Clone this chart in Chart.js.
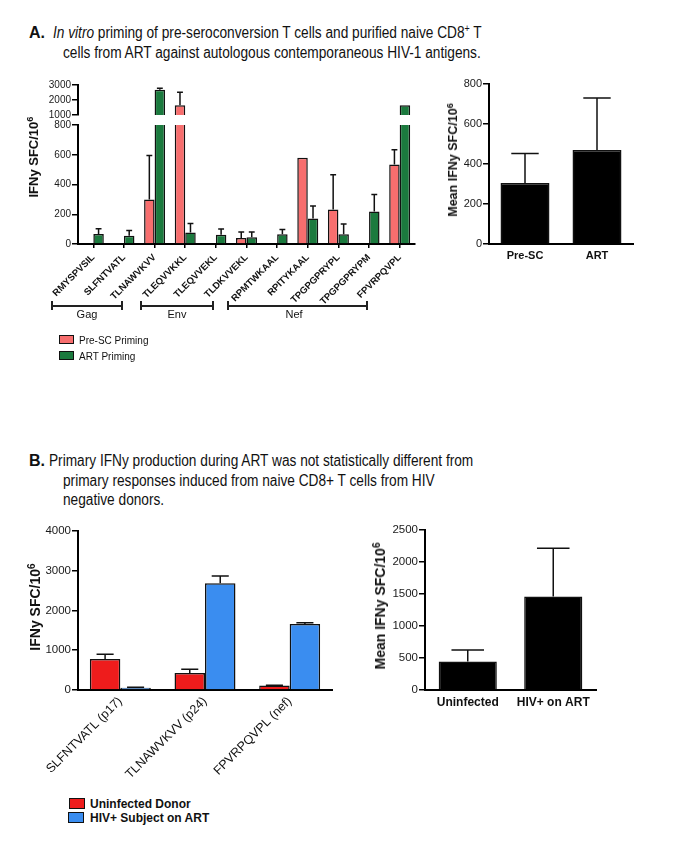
<!DOCTYPE html>
<html>
<head>
<meta charset="utf-8">
<script src="https://cdn.jsdelivr.net/npm/chart.js@4.4.1/dist/chart.umd.min.js"></script>
<style>
  html, body { margin:0; padding:0; background:#fff; }
  #page { position:relative; width:685px; height:849px; overflow:hidden; background:#fff; font-family:'Liberation Sans', Arial, sans-serif; color:#111; }
  canvas { position:absolute; }
  .t { position:absolute; white-space:nowrap; font-size:16px; line-height:20px; font-family:'Liberation Sans',Arial,sans-serif; color:#111; transform:scaleX(0.855); transform-origin:0 50%; }
  .lab { position:absolute; white-space:nowrap; font-weight:bold; font-size:16px; line-height:20px; font-family:'Liberation Sans',Arial,sans-serif; color:#111; }
  .ytitle { position:absolute; white-space:nowrap; font-weight:bold; transform:translate(-50%,-50%) rotate(-90deg); font-family:'Liberation Sans',Arial,sans-serif; color:#111; }
  .ytitle sup { font-size:0.72em; vertical-align:0.5em; line-height:0; }
  .sq { position:absolute; box-sizing:border-box; border:1.5px solid #111; }
  .leg { position:absolute; white-space:nowrap; font-family:'Liberation Sans',Arial,sans-serif; color:#111; transform:translateY(-50%); }
  .br { position:absolute; box-sizing:border-box; border-left:2px solid #222; border-right:2px solid #222; height:9px; }
  .br i { position:absolute; left:0; right:0; top:3.5px; height:2px; background:#222; }
  .brl { position:absolute; font-size:11px; font-family:'Liberation Sans',Arial,sans-serif; color:#111; transform:translate(-50%,-50%); }
</style>
</head>
<body>
<div id="page">
  <div class="lab" style="left:29px; top:23px;">A.</div>
  <div class="t" style="left:53px; top:23px;"><i>In vitro</i> priming of pre-seroconversion T cells and purified naive CD8<sup style="font-size:0.65em; vertical-align:0.55em; line-height:0;">+</sup> T</div>
  <div class="t" style="left:63px; top:43px;">cells from ART against autologous contemporaneous HIV-1 antigens.</div>

  <div class="lab" style="left:29px; top:451px;">B.</div>
  <div class="t" style="left:49px; top:451px;">Primary IFNy production during ART was not statistically different from</div>
  <div class="t" style="left:63px; top:471px;">primary responses induced from naive CD8+ T cells from HIV</div>
  <div class="t" style="left:63px; top:490px;">negative donors.</div>

  <canvas id="cATop" width="425" height="50" style="left:0px; top:75px;"></canvas>
  <canvas id="cABot" width="425" height="190" style="left:0px; top:115px;"></canvas>
  <canvas id="cAMean" width="260" height="200" style="left:425px; top:70px;"></canvas>
  <canvas id="cB" width="345" height="260" style="left:0px; top:520px;"></canvas>
  <canvas id="cBMean" width="340" height="200" style="left:345px; top:518px;"></canvas>

  <div class="ytitle" style="left:33px; top:157px; font-size:13px;">IFNy SFC/10<sup>6</sup></div>
  <div class="ytitle" style="left:453px; top:160px; font-size:12.5px;">Mean IFNy SFC/10<sup>6</sup></div>
  <div class="ytitle" style="left:35px; top:607px; font-size:14px;">IFNy SFC/10<sup>6</sup></div>
  <div class="ytitle" style="left:380px; top:606px; font-size:14px;">Mean IFNy SFC/10<sup>6</sup></div>

  <div class="br" style="left:51px; top:301px; width:72px;"><i></i></div>
  <div class="br" style="left:140px; top:301px; width:74px;"><i></i></div>
  <div class="br" style="left:227px; top:301px; width:141px;"><i></i></div>
  <div class="brl" style="left:87px; top:314px;">Gag</div>
  <div class="brl" style="left:177px; top:314px;">Env</div>
  <div class="brl" style="left:294px; top:314px;">Nef</div>

  <div class="sq" style="left:59px; top:335px; width:15px; height:9px; background:#F76E6E;"></div>
  <div class="leg" style="left:79px; top:339.5px; font-size:10px;">Pre-SC Priming</div>
  <div class="sq" style="left:59px; top:351px; width:15px; height:9px; background:#1B7A3E;"></div>
  <div class="leg" style="left:79px; top:355.5px; font-size:10px;">ART Priming</div>

  <div class="sq" style="left:69px; top:798px; width:16px; height:11px; background:#EE1C1C;"></div>
  <div class="leg" style="left:90px; top:803.5px; font-size:12px; font-weight:bold;">Uninfected Donor</div>
  <div class="sq" style="left:68px; top:812px; width:16px; height:11px; background:#3A8DF0;"></div>
  <div class="leg" style="left:90px; top:817.5px; font-size:12px; font-weight:bold;">HIV+ Subject on ART</div>
</div>

<script>
// ---------- DATA ----------
// Panel A (left): in vitro priming, IFNy SFC/10^6
const peptidesA = ['RMYSPVSIL','SLFNTVATL','TLNAWVKVV','TLEQVVKKL','TLEQVVEKL','TLDKVVEKL','RPMTWKAAL','RPITYKAAL','TPGPGPRYPL','TPGPGPRYPM','FPVRPQVPL'];
const preScValues = [null, null, 300, 1650, null, 40, null, 580, 232, null, 535];
const preScErrors = [null, null, 295, 870, null, 40, null, 0, 234, null, 98];
const artValues   = [68, 55, 2680, 78, 63, 45, 65, 172, 66, 219, 1650];
const artErrors   = [35, 35, 110, 60, 38, 35, 33, 84, 68, 114, 0];
const ticksALow  = [0, 200, 400, 600, 800];
const ticksAHigh = [1000, 2000, 3000];

// Panel A (right): mean responses
const meanGroupsA = ['Pre-SC', 'ART'];
const meanValuesA = [305, 470];
const meanErrorsA = [148, 260];
const ticksAMean  = [0, 200, 400, 600, 800];

// Panel B (left): primary IFNy responses
const peptidesB        = ['SLFNTVATL (p17)', 'TLNAWVKVV (p24)', 'FPVRPQVPL (nef)'];
const uninfectedValues = [780, 430, 110];
const uninfectedErrors = [120, 90, 10];
const hivArtValues     = [55, 2680, 1660];
const hivArtErrors     = [15, 180, 30];
const ticksB           = [0, 1000, 2000, 3000, 4000];

// Panel B (right): mean responses
const meanGroupsB = ['Uninfected', 'HIV+ on ART'];
const meanValuesB = [445, 1460];
const meanErrorsB = [180, 755];
const ticksBMean  = [0, 500, 1000, 1500, 2000, 2500];

// ---------- STYLE ----------
const FONT = "'Liberation Sans', Arial, Helvetica, sans-serif";
const PINK = '#F76E6E', GREEN = '#1B7A3E', RED = '#EE1C1C', BLUE = '#3A8DF0';
const BORDER = '#111';

const errorBars = {
  id: 'errorBars',
  afterDatasetsDraw(chart) {
    const ctx = chart.ctx, y = chart.scales.y;
    chart.data.datasets.forEach((ds, i) => {
      if (!ds.errors) return;
      const meta = chart.getDatasetMeta(i);
      meta.data.forEach((bar, j) => {
        const v = ds.data[j], e = ds.errors[j];
        if (v == null || !e) return;
        if (v < y.min || v > y.max) return;
        const y0 = y.getPixelForValue(v), y1 = y.getPixelForValue(v + e);
        const half = bar.width * 0.28;
        ctx.save();
        ctx.strokeStyle = '#111';
        ctx.lineWidth = 1.5;
        ctx.beginPath();
        ctx.moveTo(bar.x, y0); ctx.lineTo(bar.x, y1);
        ctx.moveTo(bar.x - half, y1); ctx.lineTo(bar.x + half, y1);
        ctx.stroke();
        ctx.restore();
      });
    });
  }
};

function yAxis(min, max, ticks, width, size) {
  return {
    type: 'linear', min, max,
    afterBuildTicks: s => { s.ticks = ticks.map(v => ({ value: v })); },
    afterFit: s => { s.width = width; s.paddingTop = 0; s.paddingBottom = 0; },
    border: { display: true, color: '#000', width: 2 },
    grid: { display: true, drawOnChartArea: false, drawTicks: true, tickLength: 6, color: '#000', lineWidth: 1.5 },
    ticks: { font: { family: FONT, size }, color: '#1a1a1a', padding: 1, autoSkip: false, callback: v => String(v) }
  };
}

function xAxis(height, size, opts) {
  opts = opts || {};
  return {
    type: 'category',
    display: opts.hidden ? false : true,
    afterFit: s => { s.height = height; s.paddingLeft = 0; s.paddingRight = 0; },
    border: { display: true, color: '#000', width: 2 },
    grid: opts.tickMarks
      ? { display: true, drawOnChartArea: false, offset: false, tickLength: 4, color: '#000', lineWidth: 1.5 }
      : { display: false, drawTicks: false },
    ticks: {
      font: { family: FONT, size, weight: opts.bold ? 'bold' : 'normal' },
      color: '#111', padding: opts.padding || 4, autoSkip: false,
      maxRotation: opts.rot || 0, minRotation: opts.rot || 0
    }
  };
}

function baseOptions(padding, scales) {
  return {
    responsive: false, animation: false, devicePixelRatio: 1,
    layout: { padding },
    plugins: { legend: { display: false }, tooltip: { enabled: false }, title: { display: false } },
    scales
  };
}

function barDs(label, data, errors, color, extra) {
  return Object.assign({
    label, data, errors,
    backgroundColor: color, borderColor: BORDER, borderWidth: 1.5,
    clip: 0
  }, extra || {});
}

// Panel A left - upper segment (broken axis, 1000-3000)
const highOnly = arr => arr.map(v => (v != null && v > 1000 ? v : null));
new Chart(document.getElementById('cATop'), {
  type: 'bar',
  data: { labels: peptidesA, datasets: [
    barDs('Pre-SC Priming', highOnly(preScValues), preScErrors, PINK, { categoryPercentage: 0.685, barPercentage: 1 }),
    barDs('ART Priming', highOnly(artValues), artErrors, GREEN, { categoryPercentage: 0.685, barPercentage: 1 })
  ]},
  options: baseOptions({ top: 10, bottom: 10, left: 0, right: 10 }, {
    x: xAxis(0, 10, { hidden: true }),
    y: yAxis(1000, 3000, ticksAHigh, 78, 10)
  }),
  plugins: [errorBars]
});

// Panel A left - lower segment (0-800)
new Chart(document.getElementById('cABot'), {
  type: 'bar',
  data: { labels: peptidesA, datasets: [
    barDs('Pre-SC Priming', preScValues, preScErrors, PINK, { categoryPercentage: 0.685, barPercentage: 1 }),
    barDs('ART Priming', artValues, artErrors, GREEN, { categoryPercentage: 0.685, barPercentage: 1 })
  ]},
  options: baseOptions({ top: 10, bottom: 0, left: 0, right: 10 }, {
    x: xAxis(61, 9.5, { rot: 45, tickMarks: true, padding: 0, bold: true }),
    y: yAxis(0, 800, ticksALow, 78, 10)
  }),
  plugins: [errorBars]
});

// Panel A right - means
new Chart(document.getElementById('cAMean'), {
  type: 'bar',
  data: { labels: meanGroupsA, datasets: [
    barDs('Mean', meanValuesA, meanErrorsA, '#000', { categoryPercentage: 1, barPercentage: 0.68 })
  ]},
  options: baseOptions({ top: 14, bottom: 0, left: 0, right: 52 }, {
    x: xAxis(26, 11, { bold: true, padding: 5 }),
    y: yAxis(0, 800, ticksAMean, 64, 11)
  }),
  plugins: [errorBars]
});

// Panel B left
new Chart(document.getElementById('cB'), {
  type: 'bar',
  data: { labels: peptidesB, datasets: [
    barDs('Uninfected Donor', uninfectedValues, uninfectedErrors, RED, { categoryPercentage: 0.72, barPercentage: 1 }),
    barDs('HIV+ Subject on ART', hivArtValues, hivArtErrors, BLUE, { categoryPercentage: 0.72, barPercentage: 1 })
  ]},
  options: baseOptions({ top: 10.7, bottom: 0, left: 0, right: 13 }, {
    x: xAxis(90, 12.5, { rot: 45, padding: 4 }),
    y: yAxis(0, 4000, ticksB, 78, 11.5)
  }),
  plugins: [errorBars]
});

// Panel B right - means
new Chart(document.getElementById('cBMean'), {
  type: 'bar',
  data: { labels: meanGroupsB, datasets: [
    barDs('Mean', meanValuesB, meanErrorsB, '#000', { categoryPercentage: 1, barPercentage: 0.68 })
  ]},
  options: baseOptions({ top: 12, bottom: 0, left: 0, right: 89 }, {
    x: xAxis(28, 12, { bold: true, padding: 5 }),
    y: yAxis(0, 2500, ticksBMean, 80, 11.5)
  }),
  plugins: [errorBars]
});
</script>
</body>
</html>
